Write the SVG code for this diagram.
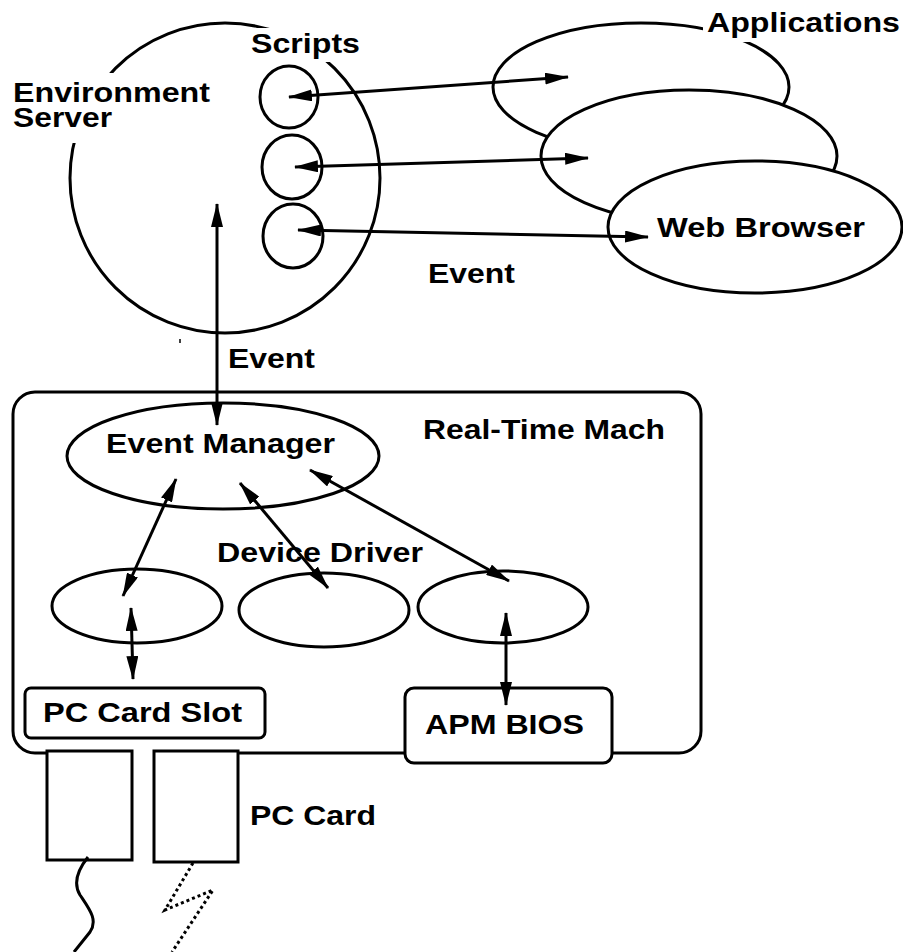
<svg xmlns="http://www.w3.org/2000/svg" width="903" height="952" viewBox="0 0 903 952">
<style>
.s{fill:none;stroke:#000;stroke-width:3}
.w{fill:#fff;stroke:#000;stroke-width:3}
.bg{fill:#fff;stroke:none}
.t{font-family:"Liberation Sans",Arial,Helvetica,sans-serif;font-weight:bold;font-size:28px;fill:#000}
.c{fill:none;stroke:#000;stroke-width:3;marker-start:url(#ah);marker-end:url(#ah)}
</style>
<defs>
<marker id="ah" markerUnits="userSpaceOnUse" markerWidth="24" markerHeight="12" refX="21" refY="5.5" orient="auto-start-reverse" viewBox="0 0 22 11">
<path d="M0,0 L22,5.5 L0,11 z" fill="#000"/>
</marker>
</defs>
<rect width="903" height="952" fill="#fff"/>

<g id="environment-server">
<circle cx="225" cy="178" r="155" class="s"/>
<rect class="bg" x="8" y="73" width="207" height="70"/>
<rect class="bg" x="245" y="28" width="120" height="34"/>
<text class="t" x="251" y="53" textLength="109" lengthAdjust="spacingAndGlyphs">Scripts</text>
<text class="t"><tspan x="13" y="102" textLength="197" lengthAdjust="spacingAndGlyphs">Environment</tspan><tspan x="13" y="127" textLength="99" lengthAdjust="spacingAndGlyphs">Server</tspan></text>
</g>
<g id="script-1"><ellipse cx="289" cy="97" rx="29" ry="31" class="s"/></g>
<g id="script-2"><ellipse cx="292" cy="167" rx="30" ry="32" class="s"/></g>
<g id="script-3"><ellipse cx="293" cy="236" rx="30" ry="32" class="s"/></g>

<g id="application-1"><ellipse cx="641" cy="87" rx="148" ry="64" class="w"/></g>
<g id="application-2"><ellipse cx="689" cy="156" rx="148" ry="66" class="w"/></g>
<g id="web-browser">
<ellipse cx="755" cy="227" rx="147" ry="66" class="w"/>
<text class="t" x="657" y="237" textLength="208" lengthAdjust="spacingAndGlyphs">Web Browser</text>
</g>
<g id="applications-label">
<rect class="bg" x="703" y="8" width="200" height="34"/>
<text class="t" x="707" y="32" textLength="193" lengthAdjust="spacingAndGlyphs">Applications</text>
</g>

<g id="event-labels">
<text class="t" x="428" y="283" textLength="87" lengthAdjust="spacingAndGlyphs">Event</text>
<text class="t" x="228" y="368" textLength="87" lengthAdjust="spacingAndGlyphs">Event</text>
<line x1="180" y1="339" x2="180" y2="343" stroke="#000" stroke-width="1.5"/>
</g>

<g id="real-time-mach">
<rect x="13" y="392" width="688" height="361" rx="22" class="s"/>
<text class="t" x="423" y="439" textLength="242" lengthAdjust="spacingAndGlyphs">Real-Time Mach</text>
</g>
<g id="event-manager">
<ellipse cx="223" cy="456" rx="156" ry="53" class="s"/>
<text class="t" x="106" y="453" textLength="229" lengthAdjust="spacingAndGlyphs">Event Manager</text>
</g>
<g id="device-driver-label">
<text class="t" x="217" y="562" textLength="206" lengthAdjust="spacingAndGlyphs">Device Driver</text>
</g>
<g id="driver-1"><ellipse cx="137" cy="606" rx="85" ry="37" class="s"/></g>
<g id="driver-2"><ellipse cx="324" cy="610" rx="85" ry="37" class="s"/></g>
<g id="driver-3"><ellipse cx="503" cy="607" rx="85" ry="36" class="s"/></g>
<g id="pc-card-slot">
<rect x="25" y="688" width="240" height="50" rx="6" class="w"/>
<text class="t" x="43" y="722" textLength="199" lengthAdjust="spacingAndGlyphs">PC Card Slot</text>
</g>
<g id="apm-bios">
<rect x="405" y="688" width="207" height="75" rx="9" class="w"/>
<text class="t" x="425" y="734" textLength="159" lengthAdjust="spacingAndGlyphs">APM BIOS</text>
</g>
<g id="pc-card">
<rect class="bg" x="130" y="749" width="26" height="8"/>
<rect x="47" y="751" width="85" height="109" class="w"/>
<rect x="154" y="751" width="84" height="111" class="w"/>
<text class="t" x="250" y="825" textLength="126" lengthAdjust="spacingAndGlyphs">PC Card</text>
<path d="M88,857 C76,872 74,885 80,895 C90,910 98,920 90,932 L74,952" class="s"/>
<path d="M193,863 L165,910 L213,890 L172,952" fill="none" stroke="#000" stroke-width="3" stroke-dasharray="3,3"/>
</g>

<g id="connectors">
<line class="c" x1="289" y1="97" x2="568" y2="77"/>
<line class="c" x1="295" y1="167" x2="588" y2="158"/>
<line class="c" x1="298" y1="230" x2="648" y2="237"/>
<line class="c" x1="217" y1="204" x2="217" y2="425"/>
<line class="c" x1="176" y1="479" x2="123" y2="596"/>
<line class="c" x1="240" y1="483" x2="328" y2="588"/>
<line class="c" x1="310" y1="470" x2="509" y2="581"/>
<line class="c" x1="131" y1="608" x2="133" y2="679"/>
<line class="c" x1="506" y1="613" x2="506" y2="705"/>
</g>
</svg>
